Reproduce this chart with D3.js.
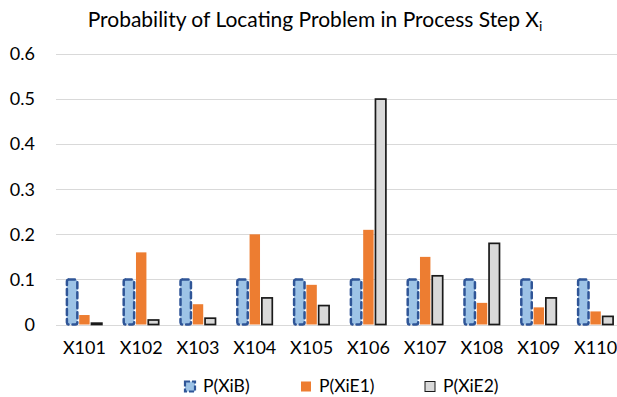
<!DOCTYPE html>
<html><head><meta charset="utf-8">
<script src="https://cdn.jsdelivr.net/npm/d3@7"></script>
<style>body{margin:0;background:#fff}svg{display:block}text{font-family:Lato,"Open Sans",sans-serif;fill:#000}</style>
</head><body><svg id="c" width="617" height="397"></svg>
<script>
const categories = ["X101","X102","X103","X104","X105","X106","X107","X108","X109","X110"];
const seriesNames = ["P(XiB)","P(XiE1)","P(XiE2)"];
const pXiB  = [0.1,0.1,0.1,0.1,0.1,0.1,0.1,0.1,0.1,0.1];
const pXiE1 = [0.021,0.16,0.045,0.2,0.088,0.21,0.15,0.048,0.038,0.029];
const pXiE2 = [0.003,0.01,0.014,0.059,0.042,0.5,0.108,0.18,0.059,0.018];
const yTicks = [0,0.1,0.2,0.3,0.4,0.5,0.6];

const svg = d3.select("#c");
const x = d3.scaleBand().domain(categories).range([56,624]);
const y = d3.scaleLinear().domain([0,0.6]).range([324.5,54]);
const bw = x.bandwidth();
const xs = d3.scaleBand().domain(seriesNames).range([bw*0.192, bw*0.808]).paddingInner(0.15);
const styles = {
  "P(XiB)":  {fill:"#9DC3E6", stroke:"#2F5597", sw:2.5, dash:"6,4"},
  "P(XiE1)": {fill:"#ED7D31", stroke:"none", sw:0, dash:null},
  "P(XiE2)": {fill:"#D9D9D9", stroke:"#1a1a1a", sw:1.7, dash:null}
};
const data = {"P(XiB)":pXiB,"P(XiE1)":pXiE1,"P(XiE2)":pXiE2};

// grid
svg.append("g").selectAll("line").data(yTicks).join("line")
  .attr("x1",56).attr("x2",624).attr("y1",d=>Math.round(y(d))+0.5).attr("y2",d=>Math.round(y(d))+0.5)
  .attr("stroke","#D9D9D9").attr("stroke-width",1.2);

// y labels
const yAxis = d3.axisLeft(y).tickValues(yTicks).tickSize(0).tickPadding(0).tickFormat(d=>d===0?"0":d3.format(".1f")(d));
const ya = svg.append("g").attr("transform","translate(35,0)").call(yAxis);
ya.select(".domain").remove();
ya.selectAll("text").attr("font-size",18).attr("font-family","Lato").attr("fill","#000");

// bars
seriesNames.forEach(s=>{
  const st = styles[s];
  const g = svg.append("g");
  g.selectAll("rect").data(categories.map((c,i)=>({c,v:data[s][i]}))).join("rect")
    .attr("x",d=>x(d.c)+xs(s)).attr("width",xs.bandwidth())
    .attr("y",d=>y(d.v)).attr("height",d=>y(0)-y(d.v))
    .attr("fill",st.fill).attr("stroke",st.stroke).attr("stroke-width",st.sw)
    .attr("stroke-dasharray",st.dash).attr("rx",s==="P(XiB)"?2:0)
    .attr("stroke-linecap","round");
});

// x labels
const xAxis = d3.axisBottom(x).tickSize(0).tickPadding(0);
const xa = svg.append("g").attr("transform","translate(0,341)").call(xAxis);
xa.select(".domain").remove();
xa.selectAll("text").attr("font-size",18).attr("font-family","Lato").attr("fill","#000");

// title
const t = svg.append("text").attr("x",315).attr("y",27).attr("text-anchor","middle").attr("font-size",21);
t.append("tspan").text("Probability of Locating Problem in Process Step X");
t.append("tspan").attr("font-size",14).attr("dy",4).text("i");

// legend
const legX = [185,301,425];
seriesNames.forEach((s,i)=>{
  const st = styles[s];
  svg.append("rect").attr("x",legX[i]).attr("y",381.5).attr("width",10).attr("height",10)
    .attr("fill",st.fill).attr("stroke",st.stroke).attr("stroke-width",s==="P(XiB)"?2.2:1)
    .attr("stroke-dasharray",s==="P(XiB)"?"5,2":null);
  svg.append("text").attr("x",legX[i]+18).attr("y",392).attr("font-size",17.5).text(s);
});
</script></body></html>
